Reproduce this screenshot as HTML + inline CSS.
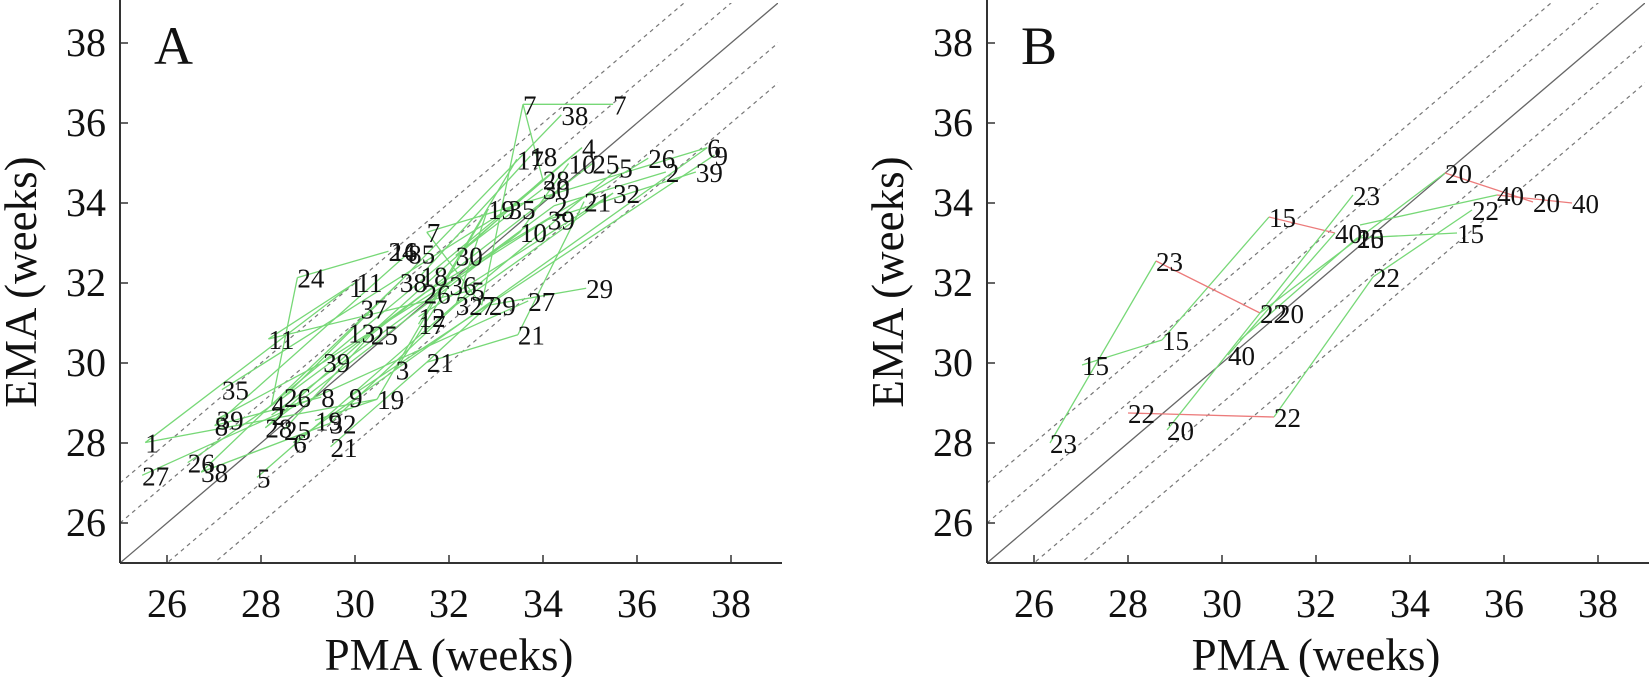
<!DOCTYPE html>
<html><head><meta charset="utf-8"><style>
html,body{margin:0;padding:0;background:#fff;}
svg{display:block;font-family:"Liberation Serif",serif;}
</style></head><body>
<svg id="s" width="1650" height="677" xmlns="http://www.w3.org/2000/svg"></svg>
<script>
const S=document.getElementById('s');const NS='http://www.w3.org/2000/svg';
function el(t,a,txt){const e=document.createElementNS(NS,t);for(const k in a)e.setAttribute(k,a[k]);if(txt!==undefined)e.textContent=txt;S.appendChild(e);return e;}
const PX=47,PY=40,Y0=563;
function panel(x0,letter,clipId){
  const X=v=>x0+(v-25)*PX, Y=v=>Y0-(v-25)*PY;
  const defs=el('defs',{});const cp=document.createElementNS(NS,'clipPath');cp.setAttribute('id',clipId);
  const r=document.createElementNS(NS,'rect');r.setAttribute('x',x0);r.setAttribute('y',3);r.setAttribute('width',14*PX);r.setAttribute('height',560);cp.appendChild(r);defs.appendChild(cp);
  const g=el('g',{'clip-path':'url(#'+clipId+')'});
  [2,1,-1,-2].forEach(o=>{const l=document.createElementNS(NS,'line');
    l.setAttribute('x1',X(25));l.setAttribute('y1',Y(25+o));l.setAttribute('x2',X(40));l.setAttribute('y2',Y(40+o));
    l.setAttribute('stroke','#777');l.setAttribute('stroke-width','1.2');l.setAttribute('stroke-dasharray','4,4');g.appendChild(l);});
  const l=document.createElementNS(NS,'line');l.setAttribute('x1',X(25));l.setAttribute('y1',Y(25));l.setAttribute('x2',X(40));l.setAttribute('y2',Y(40));
  l.setAttribute('stroke','#666');l.setAttribute('stroke-width','1.3');g.appendChild(l);
  el('line',{x1:x0,y1:0,x2:x0,y2:Y0,stroke:'#333','stroke-width':2});
  el('line',{x1:x0,y1:Y0,x2:x0+14*PX+4,y2:Y0,stroke:'#333','stroke-width':2});
  for(let v=26;v<=38;v+=2){
    el('line',{x1:X(v),y1:Y0,x2:X(v),y2:Y0-8,stroke:'#333','stroke-width':1.5});
    el('line',{x1:x0,y1:Y(v),x2:x0+8,y2:Y(v),stroke:'#333','stroke-width':1.5});
    el('text',{x:X(v),y:617,'font-size':40,'text-anchor':'middle',fill:'#111'},v);
    el('text',{x:x0-14,y:Y(v)+13,'font-size':40,'text-anchor':'end',fill:'#111'},v);
  }
  el('text',{x:x0+7*PX,y:670,'font-size':45,'text-anchor':'middle',fill:'#111'},'PMA (weeks)');
  el('text',{x:0,y:0,'font-size':45,'text-anchor':'middle',fill:'#111',transform:`translate(${x0-84},282) rotate(-90)`},'EMA (weeks)');
  el('text',{x:x0+34,y:64,'font-size':54,fill:'#111'},letter);
}
panel(120,'A','ca');panel(987,'B','cb');
const G='#77d877',R='#ec7b7b';
const A=[["7",505,104],["7",592,104],["38",548,114],["17",505,156],["18",518,153],["4",562,145],["10",555,160],["25",578,160],["5",598,164],["26",632,155],["6",683,145],["9",690,152],["2",643,168],["39",678,168],["28",530,175],["30",530,184],["19",477,203],["35",497,203],["2",535,200],["21",570,196],["32",598,188],["39",535,213],["10",508,225],["7",412,225],["24",381,243],["16",383,243],["85",400,245],["30",446,247],["1",337,277],["11",350,272],["38",392,272],["18",412,266],["26",415,283],["36",440,275],["5",455,280],["32",446,294],["7",465,294],["29",478,294],["29",572,278],["27",516,290],["24",293,268],["37",354,297],["13",342,320],["25",364,322],["12",410,305],["17",410,312],["21",506,322],["11",265,326],["39",318,348],["3",382,355],["21",418,348],["35",220,374],["26",280,381],["8",310,381],["9",337,381],["4",262,388],["2",262,398],["19",370,383],["8",207,408],["39",215,402],["28",262,410],["19",310,403],["25",280,412],["6",283,424],["32",324,406],["21",325,428],["1",140,424],["26",187,443],["27",143,455],["38",200,452],["5",248,457]];
const pts=A.map(([t,px,py])=>{const w=t.length*6;return {t,x:167+(px-w-155)*1.035,y:43+(py-46)*1.057};});
const by={};pts.forEach(p=>{(by[p.t]=by[p.t]||[]).push(p);});
const gA=el('g',{'clip-path':'url(#ca)'});
for(const k in by){const a=by[k].slice().sort((p,q)=>p.x-q.x);for(let i=0;i<a.length-1;i++){
  const l=document.createElementNS(NS,'line');l.setAttribute('x1',a[i].x);l.setAttribute('y1',a[i].y);l.setAttribute('x2',a[i+1].x);l.setAttribute('y2',a[i+1].y);
  l.setAttribute('stroke',G);l.setAttribute('stroke-width','1.3');gA.appendChild(l);}}
[[0,14],[23,10],[47,34],[55,40],[60,22],[52,30],[44,20],[69,64],[66,57],[50,37],[35,16],[49,33],[58,26],[27,5]].forEach(([i,j])=>{
  const l=document.createElementNS(NS,'line');l.setAttribute('x1',pts[i].x);l.setAttribute('y1',pts[i].y);l.setAttribute('x2',pts[j].x);l.setAttribute('y2',pts[j].y);
  l.setAttribute('stroke',G);l.setAttribute('stroke-width','1.3');gA.appendChild(l);});
pts.forEach(p=>el('text',{x:p.x,y:p.y+10,'font-size':27,fill:'#111'},p.t));
const Bl=[[[1050,443],[1156,261],G],[[1082,365],[1162,340],G],[[1162,340],[1269,217],G],[[1269,217],[1335,233],R],
[[1156,261],[1260,313],R],[[1260,313],[1353,195],G],[[1128,413],[1274,417],R],[[1274,417],[1373,277],G],[[1373,277],[1472,210],G],
[[1167,430],[1260,313],G],[[1260,313],[1445,173],G],[[1445,173],[1533,202],R],[[1228,355],[1335,233],G],[[1360,225],[1497,195],G],
[[1497,195],[1572,203],R],[[1357,238],[1457,233],G],[[1240,340],[1357,238],G]];
Bl.forEach(([a,b,c])=>el('line',{x1:a[0],y1:a[1],x2:b[0],y2:b[1],stroke:c,'stroke-width':1.3}));
const BL=[["23",1050,443],["15",1082,365],["23",1156,261],["15",1162,340],["15",1269,217],["22",1128,413],["20",1167,430],["40",1228,355],
["22",1260,313],["20",1277,313],["22",1274,417],["23",1353,195],["40",1335,233],["20",1357,238],["15",1357,238],["20",1445,173],["40",1497,195],
["20",1533,202],["40",1572,203],["22",1472,210],["15",1457,233],["22",1373,277]];
BL.forEach(([t,x,y])=>el('text',{x:x,y:y+10,'font-size':27,fill:'#111'},t));
</script>
</body></html>
